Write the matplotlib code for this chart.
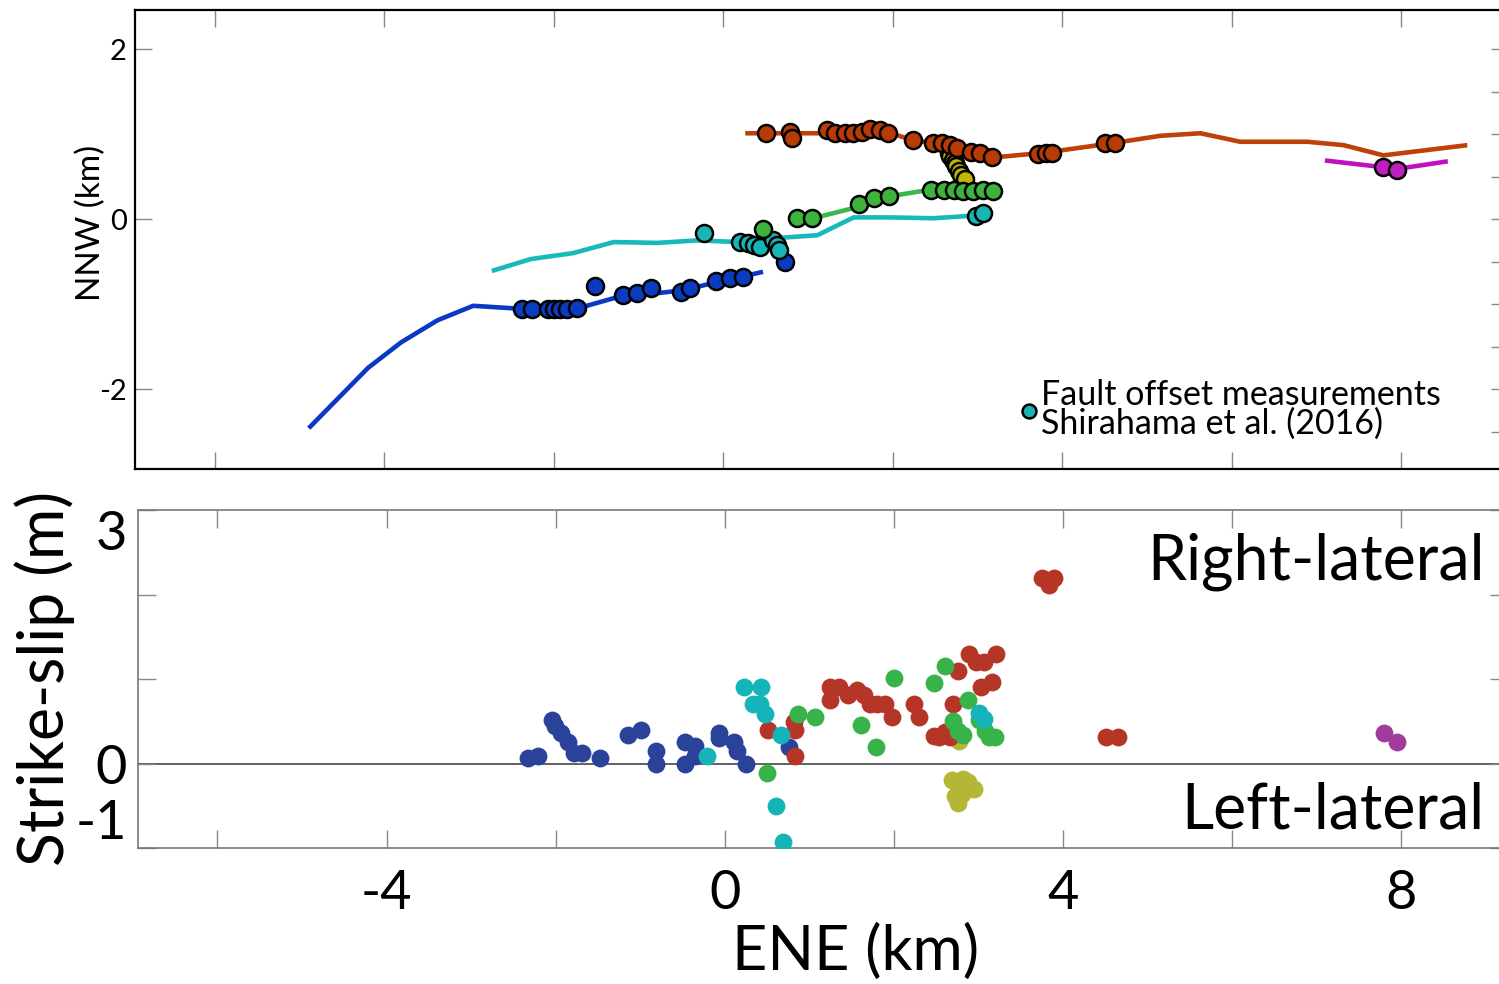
import matplotlib
matplotlib.use("Agg")
import matplotlib.pyplot as plt
from matplotlib.lines import Line2D
from matplotlib.ticker import MultipleLocator

plt.rcParams['font.family'] = ['Lato', 'DejaVu Sans']

# --- 1. Map view: fault traces (km) ---
blue_line_x = [-4.89, -4.19, -3.80, -3.37, -2.95, -2.47, -1.68, -1.29, -0.50, 0.47]
blue_line_y = [-2.46, -1.75, -1.45, -1.19, -1.02, -1.05, -1.04, -0.93, -0.84, -0.62]
cyan_line_x = [-2.73, -2.27, -1.77, -1.29, -0.78, -0.30, 0.17, 0.67, 1.11, 1.54, 1.97, 2.48, 2.95]
cyan_line_y = [-0.61, -0.47, -0.40, -0.27, -0.28, -0.25, -0.27, -0.22, -0.19, 0.02, 0.02, 0.01, 0.04]
green_line_x = [0.83, 1.06, 1.58, 1.97, 2.41, 3.19]
green_line_y = [0.01, 0.01, 0.14, 0.27, 0.34, 0.34]
orange_line_x = [0.26, 1.18, 1.94, 2.17, 2.48, 2.80, 3.24, 3.78, 4.57, 5.16, 5.63, 6.10, 6.89, 7.32, 7.79, 8.78]
orange_line_y = [1.01, 1.01, 1.02, 0.95, 0.89, 0.81, 0.73, 0.78, 0.89, 0.98, 1.01, 0.91, 0.91, 0.87, 0.75, 0.87]
magenta_line_x = [7.10, 7.79, 7.95, 8.55]
magenta_line_y = [0.69, 0.61, 0.59, 0.68]

# --- 2. Map view: measurement sites (km) ---
blue_pts_x = [-2.37, -2.25, -2.07, -2.00, -1.92, -1.84, -1.72, -1.51, -1.18, -1.02, -0.85,
              -0.50, -0.39, -0.09, 0.08, 0.23, 0.73]
blue_pts_y = [-1.06, -1.06, -1.06, -1.06, -1.06, -1.06, -1.05, -0.79, -0.89, -0.87, -0.81,
              -0.86, -0.81, -0.73, -0.69, -0.68, -0.51]
cyan_pts_x = [-0.23, 0.20, 0.29, 0.36, 0.44, 0.59, 0.64, 0.66, 2.98, 3.06]
cyan_pts_y = [-0.16, -0.27, -0.28, -0.31, -0.33, -0.25, -0.31, -0.36, 0.04, 0.07]
green_pts_x = [0.47, 0.87, 1.05, 1.60, 1.78, 1.96, 2.45, 2.60, 2.72, 2.83, 2.95, 3.06, 3.18]
green_pts_y = [-0.12, 0.01, 0.01, 0.18, 0.25, 0.27, 0.34, 0.34, 0.34, 0.33, 0.33, 0.34, 0.33]
olive_pts_x = [2.66, 2.68, 2.71, 2.73, 2.75, 2.78, 2.81, 2.85]
olive_pts_y = [0.78, 0.74, 0.70, 0.66, 0.62, 0.57, 0.52, 0.47]
orange_pts_x = [0.50, 0.79, 0.81, 1.23, 1.32, 1.44, 1.53, 1.64, 1.73, 1.85, 1.94, 2.24, 2.47,
                2.58, 2.68, 2.76, 2.92, 3.03, 3.17, 3.72, 3.81, 3.88, 4.51, 4.62]
orange_pts_y = [1.01, 1.02, 0.96, 1.05, 1.01, 1.01, 1.01, 1.02, 1.06, 1.05, 1.01, 0.93, 0.89,
                0.89, 0.87, 0.84, 0.79, 0.78, 0.73, 0.77, 0.78, 0.78, 0.90, 0.90]
magenta_pts_x = [7.79, 7.95]
magenta_pts_y = [0.61, 0.58]

# --- 3. Strike-slip offsets (m) along ENE ---
blue_slip_x = [-2.33, -2.21, -2.05, -2.01, -1.94, -1.86, -1.78, -1.69, -1.48, -1.15, -0.99, -0.82,
               -0.81, -0.47, -0.47, -0.35, -0.35, -0.07, -0.07, 0.11, 0.14, 0.25, 0.76]
blue_slip_y = [0.07, 0.09, 0.51, 0.44, 0.36, 0.25, 0.13, 0.12, 0.07, 0.34, 0.40, 0.15,
               0.00, 0.25, 0.00, 0.21, 0.09, 0.36, 0.30, 0.25, 0.15, 0.00, 0.20]
cyan_slip_x = [0.23, 0.43, 0.33, 0.41, 0.48, 0.66, -0.21, 0.61, 0.69, 3.01, 3.06]
cyan_slip_y = [0.90, 0.90, 0.70, 0.70, 0.59, 0.34, 0.09, -0.50, -0.93, 0.60, 0.53]
green_slip_x = [0.87, 1.06, 0.50, 2.00, 1.61, 1.79, 2.60, 2.47, 2.88, 2.70, 2.76, 2.82,
                3.00, 3.07, 3.12, 3.19]
green_slip_y = [0.59, 0.55, -0.11, 1.01, 0.46, 0.20, 1.15, 0.95, 0.75, 0.50, 0.39, 0.34,
                0.51, 0.39, 0.31, 0.31]
red_slip_x = [0.51, 0.82, 0.83, 0.83, 1.24, 1.24, 1.35, 1.46, 1.56, 1.64, 1.72, 1.80, 1.89,
              1.98, 2.24, 2.30, 2.47, 2.53, 2.60, 2.66, 2.70, 2.76, 2.89, 2.97, 3.06, 3.21,
              3.03, 3.16, 3.75, 3.83, 3.89, 4.51, 4.65]
red_slip_y = [0.40, 0.49, 0.40, 0.09, 0.90, 0.75, 0.90, 0.81, 0.87, 0.81, 0.71, 0.70, 0.70,
              0.55, 0.71, 0.55, 0.33, 0.31, 0.37, 0.31, 0.70, 1.10, 1.30, 1.20, 1.20, 1.30,
              0.90, 0.96, 2.19, 2.11, 2.19, 0.31, 0.31]
olive_slip_x = [2.77, 2.68, 2.82, 2.94, 2.72, 2.80, 2.76, 2.87]
olive_slip_y = [0.27, -0.20, -0.18, -0.30, -0.38, -0.36, -0.47, -0.22]
magenta_slip_x = [7.79, 7.95]
magenta_slip_y = [0.36, 0.25]

xlims = (-6.94, 9.26)
W, H = 1499, 984

fig = plt.figure(figsize=(W / 100, H / 100), dpi=100)

# --- top panel: map ---
ax1 = fig.add_axes([135 / W, (H - 469) / H, 1373 / W, 459 / H])
line_kw = dict(lw=3.3, solid_capstyle='butt')
ax1.plot(blue_line_x, blue_line_y, color='#0b38c4', **line_kw)
ax1.plot(cyan_line_x, cyan_line_y, color='#17b9b9', **line_kw)
ax1.plot(green_line_x, green_line_y, color='#3cb84a', **line_kw)
ax1.plot(orange_line_x, orange_line_y, color='#c0400a', **line_kw)
ax1.plot(magenta_line_x, magenta_line_y, color='#c010c0', **line_kw)

pt_kw = dict(s=150, edgecolors='black', linewidths=1.8, zorder=3)
ax1.scatter(blue_pts_x, blue_pts_y, c='#0b3bbf', **pt_kw)
ax1.scatter(cyan_pts_x, cyan_pts_y, c='#19b5b5', **pt_kw)
ax1.scatter(olive_pts_x, olive_pts_y, c='#c0b800', **pt_kw)
ax1.scatter(green_pts_x, green_pts_y, c='#3db33d', **pt_kw)
ax1.scatter(orange_pts_x, orange_pts_y, c='#b83a05', **pt_kw)
ax1.scatter(magenta_pts_x, magenta_pts_y, c='#c020c0', **pt_kw)

ax1.set_xlim(xlims)
ax1.set_ylim(-2.94, 2.46)
ax1.set_xticks(range(-6, 10, 2))
ax1.set_xticklabels([])
ax1.set_yticks([-2, 0, 2])
ax1.set_yticklabels(['-2', '0', '2'], fontsize=21)
ax1.yaxis.set_minor_locator(MultipleLocator(0.5))
ax1.tick_params(which='both', direction='in', length=12, width=1, color='#888888',
                top=True, right=True, pad=6)
ax1.tick_params(which='minor', left=False, right=True)
for side in ['left', 'top', 'bottom']:
    ax1.spines[side].set_linewidth(1.6)
ax1.spines['right'].set_visible(False)
ax1.set_ylabel('NNW (km)', fontsize=24)
ax1.yaxis.set_label_coords(-0.021, 0.536)

handle = Line2D([], [], marker='o', ls='', mfc='#19b5b5', mec='black', mew=1.8, ms=10)
leg = ax1.legend([handle], ['Fault offset measurements\nShirahama et al. (2016)'],
                 loc='center left', bbox_to_anchor=(0.646, 0.129), frameon=False,
                 fontsize=24.5, handlelength=0.4, handletextpad=0.15,
                 borderpad=0, borderaxespad=0)
leg.get_texts()[0].set_linespacing(0.88)

# --- bottom panel: strike-slip ---
ax2 = fig.add_axes([138 / W, (H - 848) / H, 1370 / W, 338 / H])
ax2.axhline(0, color='#555555', lw=1.3, zorder=1)
sl_kw = dict(s=165, linewidths=0, zorder=3)
ax2.scatter(blue_slip_x, blue_slip_y, c='#2b429b', **sl_kw)
ax2.scatter(olive_slip_x, olive_slip_y, c='#b5b536', **sl_kw)
ax2.scatter(red_slip_x, red_slip_y, c='#b53526', **sl_kw)
ax2.scatter(green_slip_x, green_slip_y, c='#38b34a', **sl_kw)
ax2.scatter(cyan_slip_x, cyan_slip_y, c='#14b4b9', **sl_kw)
ax2.scatter(magenta_slip_x, magenta_slip_y, c='#a03c9e', **sl_kw)

ax2.set_xlim(xlims)
ax2.set_ylim(-1, 3)
ax2.set_xticks(range(-6, 10, 2))
ax2.set_xticklabels(['', '-4', '', '0', '', '4', '', '8'], fontsize=39)
ax2.set_yticks([-1, 0, 1, 2, 3])
ax2.set_yticklabels(['-1', '0', '', '', '3'], fontsize=39)
ax2.tick_params(direction='in', length=13, width=1, color='#888888', top=True, right=True)
ax2.tick_params(axis='x', pad=15)
ax2.tick_params(axis='y', pad=8)
yt = ax2.yaxis.get_major_ticks()
yt[0].label1.set_va('bottom')
yt[4].label1.set_va('top')
for side in ['left', 'top', 'bottom']:
    ax2.spines[side].set_color('#777777')
    ax2.spines[side].set_linewidth(1.2)
ax2.spines['right'].set_visible(False)

ax2.text(0.983, 0.846, 'Right-lateral', transform=ax2.transAxes, ha='right', va='center',
         fontsize=45)
ax2.text(0.983, 0.112, 'Left-lateral', transform=ax2.transAxes, ha='right', va='center',
         fontsize=45)
ax2.set_xlabel('ENE (km)', fontsize=44)
ax2.xaxis.set_label_coords(0.524, -0.225)
ax2.set_ylabel('Strike-slip (m)', fontsize=45)
ax2.yaxis.set_label_coords(-0.046, 0.503)

fig.savefig('out.png', dpi=100)
